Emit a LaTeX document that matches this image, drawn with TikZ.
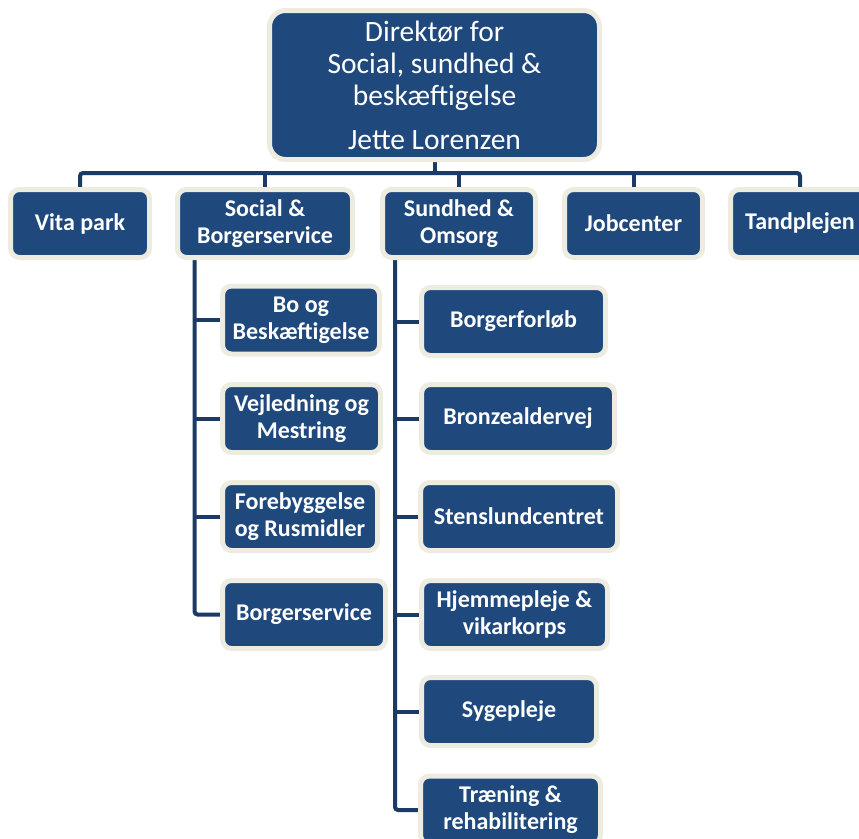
\documentclass[tikz,border=0pt]{standalone}
\usepackage{fontspec}
\setmainfont{Carlito}
\definecolor{boxblue}{HTML}{1F497D}
\definecolor{cream}{HTML}{EEECE1}
\definecolor{linenavy}{HTML}{1B3A66}
\pgfdeclarelayer{bg}
\pgfsetlayers{bg,main}
\begin{document}
\begin{tikzpicture}[x=1pt,y=-1pt,
  orgbox/.style={draw=cream,fill=boxblue,line width=5pt,rounded corners=9pt,
    text=white,align=center,inner sep=0pt,minimum height=68pt,
    font=\fontsize{24}{27}\selectfont\bfseries},
  topbox/.style={orgbox,font=\fontsize{29.5}{32}\selectfont,rounded corners=16pt},
  conn/.style={draw=linenavy,line width=4pt,rounded corners=3pt}]
\useasboundingbox (0,0) rectangle (859,838);
\node[topbox,minimum width=330pt,minimum height=149pt] (top) at (434.5,85)
  {Direktør for\\Social, sundhed \&\\beskæftigelse\\[12pt]Jette Lorenzen};
\node[orgbox,minimum width=139pt] (vita) at (80,223.5) {Vita park};
\node[orgbox,minimum width=175pt] (social) at (265,223.5) {Social \&\\Borgerservice};
\node[orgbox,minimum width=153pt] (sund) at (459,223.5) {Sundhed \&\\Omsorg};
\node[orgbox,minimum width=138pt] (job) at (633.5,223.5) {Jobcenter};
\node[orgbox,minimum width=139pt] (tand) at (800,223.5) {Tandplejen};
% Social children
\node[orgbox,minimum width=157pt] (bo) at (301,320) {Bo og\\Beskæftigelse};
\node[orgbox,minimum width=158pt] (vej) at (301.5,418.5) {Vejledning og\\Mestring};
\node[orgbox,minimum width=155pt] (fore) at (300,516.5) {Forebyggelse\\og Rusmidler};
\node[orgbox,minimum width=163pt] (bserv) at (304,614.5) {Borgerservice};
% Sundhed children
\node[orgbox,minimum width=184pt] (bforl) at (513.5,321.5) {Borgerforløb};
\node[orgbox,minimum width=193pt] (bronze) at (518,418.5) {Bronzealdervej};
\node[orgbox,minimum width=197pt] (sten) at (519,516.5) {Stenslundcentret};
\node[orgbox,minimum width=186pt] (hjem) at (514.5,614.5) {Hjemmepleje \&\\vikarkorps};
\node[orgbox,minimum width=175pt] (syge) at (509,711.5) {Sygepleje};
\node[orgbox,minimum width=180pt] (tran) at (510.5,810) {Træning \&\\rehabilitering};
\coordinate (bus) at (0,173);
\coordinate (strunk) at ([xshift=19.5pt]social.south west);
\coordinate (htrunk) at ([xshift=15pt]sund.south west);
\begin{pgfonlayer}{bg}
\draw[conn] (top.south) -- (top.south |- bus);
\draw[conn] (vita.north) |- (tand.north |- bus) -- (tand.north);
\draw[conn] (social.north) -- (social.north |- bus);
\draw[conn] (sund.north) -- (sund.north |- bus);
\draw[conn] (job.north) -- (job.north |- bus);
\draw[conn] (strunk) |- (bserv.west);
\foreach \n in {bo,vej,fore} \draw[conn] (strunk |- \n.west) -- (\n.west);
\draw[conn] (htrunk) |- (tran.west);
\foreach \n in {bforl,bronze,sten,hjem,syge} \draw[conn] (htrunk |- \n.west) -- (\n.west);
\end{pgfonlayer}
\end{tikzpicture}
\end{document}
